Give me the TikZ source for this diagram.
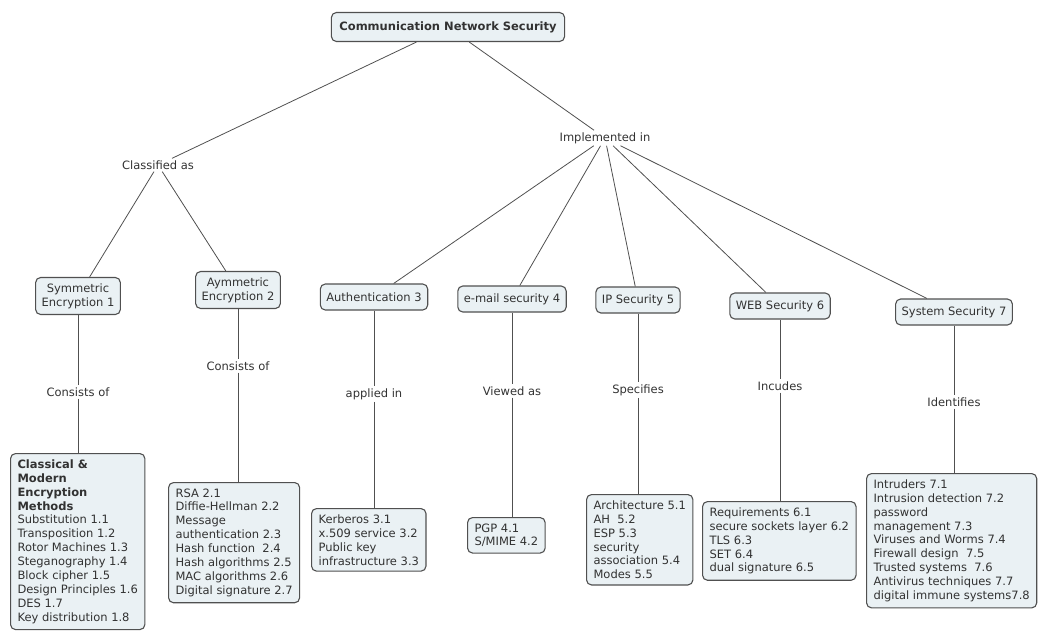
\documentclass[tikz,border=0pt]{standalone}
\usepackage{fontspec}
\setmainfont{DejaVu Sans}
\definecolor{boxfill}{RGB}{234,241,244}
\definecolor{edgegray}{RGB}{80,80,80}
\definecolor{txtgray}{RGB}{50,50,50}
\begin{document}
\begin{tikzpicture}[x=1pt,y=-1pt,font=\fontsize{11.5}{13.9}\selectfont]
\tikzstyle{concept}=[draw=edgegray, fill=boxfill, rounded corners=5pt, line width=1.1pt, align=center, text=txtgray, inner xsep=6pt, inner ysep=6pt, minimum height=26pt]
\tikzstyle{leaf}=[concept, align=left, anchor=north west, inner xsep=7pt]
\tikzstyle{linking}=[text=txtgray, inner sep=2pt]
\tikzstyle{link}=[draw=edgegray, line width=0.8pt]
    \useasboundingbox (0,0) rectangle (1040,630);
    \clip (0,0) rectangle (1040,630);

    \node[concept, font=\fontsize{11.5}{13.9}\selectfont\bfseries, inner xsep=8pt, minimum height=29pt] (root) at (448,27) {Communication Network Security};

    \node[linking] (cls) at (158,165) {Classified as};
    \node[linking] (imp) at (605,138) {Implemented in};

    \node[concept] (sym) at (78,296) {Symmetric\\Encryption 1};
    \node[concept] (asym) at (238,290) {Aymmetric\\Encryption 2};
    \node[concept] (auth) at (374,297) {Authentication 3};
    \node[concept] (email) at (512,299) {e-mail security 4};
    \node[concept] (ipsec) at (638,300) {IP Security 5};
    \node[concept] (websec) at (780,306) {WEB Security 6};
    \node[concept] (syssec) at (954,312) {System Security 7};

    \node[linking] (con1) at (78,392) {Consists of};
    \node[linking] (con2) at (238,366) {Consists of};
    \node[linking] (app) at (374,394) {applied in};
    \node[linking] (view) at (512,391) {Viewed as};
    \node[linking] (spec) at (638,390) {Specifies};
    \node[linking] (inc) at (780,386) {Incudes};
    \node[linking] (ident) at (954,402) {Identifies};

    \node[leaf] (l1) at (10,453) {\textbf{Classical \&}\\\textbf{Modern}\\\textbf{Encryption}\\\textbf{Methods}\\Substitution 1.1\\Transposition 1.2\\Rotor Machines 1.3\\Steganography 1.4\\Block cipher 1.5\\Design Principles 1.6\\DES 1.7\\Key distribution 1.8};
    \node[leaf] (l2) at (168,482) {RSA 2.1\\Diffie-Hellman 2.2\\Message\\authentication 2.3\\Hash function~ 2.4\\Hash algorithms 2.5\\MAC algorithms 2.6\\Digital signature 2.7};
    \node[leaf] (l3) at (311,508) {Kerberos 3.1\\x.509 service 3.2\\Public key\\infrastructure 3.3};
    \node[leaf] (l4) at (467,517) {PGP 4.1\\S/MIME 4.2};
    \node[leaf] (l5) at (586,494) {Architecture 5.1\\AH~ 5.2\\ESP 5.3\\security\\association 5.4\\Modes 5.5};
    \node[leaf] (l6) at (702,501) {Requirements 6.1\\secure sockets layer 6.2\\TLS 6.3\\SET 6.4\\dual signature 6.5};
    \node[leaf] (l7) at (866,473) {Intruders 7.1\\Intrusion detection 7.2\\password\\management 7.3\\Viruses and Worms 7.4\\Firewall design~ 7.5\\Trusted systems~ 7.6\\Antivirus techniques 7.7\\digital immune systems7.8};

    \draw[link] (root) -- (cls);
    \draw[link] (root) -- (imp);

    \draw[link] (cls) -- (sym);
    \draw[link] (cls) -- (asym);

    \draw[link] (imp) -- (auth);
    \draw[link] (imp) -- (email);
    \draw[link] (imp) -- (ipsec);
    \draw[link] (imp) -- (websec);
    \draw[link] (imp) -- (syssec);

    \draw[link] (sym) -- (con1);
    \draw[link] (con1) -- (con1 |- l1.north);
    \draw[link] (asym) -- (con2);
    \draw[link] (con2) -- (con2 |- l2.north);
    \draw[link] (auth) -- (app);
    \draw[link] (app) -- (app |- l3.north);
    \draw[link] (email) -- (view);
    \draw[link] (view) -- (view |- l4.north);
    \draw[link] (ipsec) -- (spec);
    \draw[link] (spec) -- (spec |- l5.north);
    \draw[link] (websec) -- (inc);
    \draw[link] (inc) -- (inc |- l6.north);
    \draw[link] (syssec) -- (ident);
    \draw[link] (ident) -- (ident |- l7.north);

\end{tikzpicture}
\end{document}
